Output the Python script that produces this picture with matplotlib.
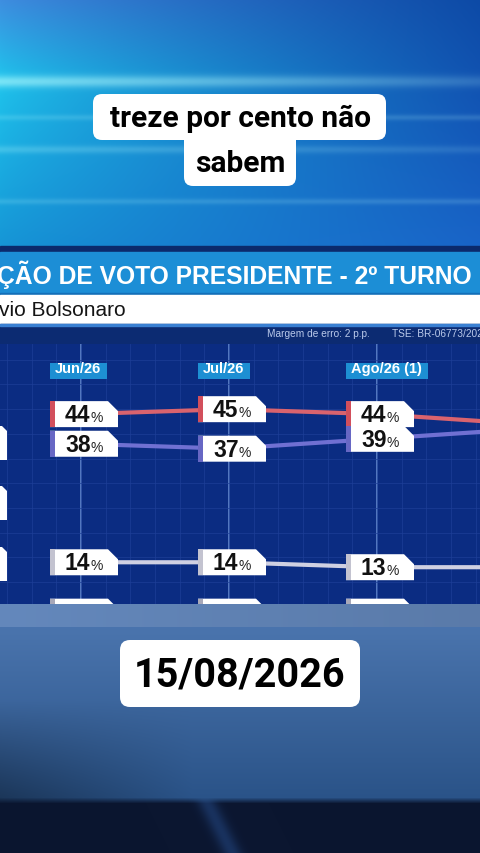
import numpy as np
import matplotlib
matplotlib.use('Agg')
import matplotlib.pyplot as plt
from matplotlib import font_manager
from matplotlib.patches import Rectangle, FancyBboxPatch, Polygon
from matplotlib.ticker import MultipleLocator

# ============================================================================
# Data (read off the TV graphic)
# ============================================================================
months = ['Jun/26', 'Jul/26', 'Ago/26 (1)', 'Ago/26 (2)']
lula = [44, 45, 44, 42]
flavio = [38, 37, 39, 41]
nao_sabe = [14, 14, 13, 13]
branco_nulo = [4, 4, 4, 4]

caption_lines = ['treze por cento não', 'sabem']
title_text = 'ÇÃO DE VOTO PRESIDENTE - 2º TURNO'
subtitle_text = 'vio Bolsonaro'
margin_text = 'Margem de erro: 2 p.p.'
tse_text = 'TSE: BR-06773/2026'
date_text = '15/08/2026'

SERIES = [
    (lula, '#d9636e', '#d24f5c'),
    (flavio, '#7070d2', '#6767c4'),
    (nao_sabe, '#cfd0e2', '#c3c3d0'),
    (branco_nulo, '#b8b8cc', '#a8a8b8'),
]

W, H = 480, 854
DPI = 100

installed = {f.name for f in font_manager.fontManager.ttflist}
TITLE_FONT = 'Liberation Sans Narrow' if 'Liberation Sans Narrow' in installed else 'Liberation Sans'


def hex2rgb(h):
    h = h.lstrip('#')
    return np.array([int(h[i:i + 2], 16) / 255 for i in (0, 2, 4)])


def top_background():
    """Bright blue studio backdrop with horizontal light streaks"""
    yy, xx = np.mgrid[0:247, 0:W].astype(float)
    t = xx / W
    left_top, left_mid, left_bot = hex2rgb('#3f8ee0'), hex2rgb('#1fc4ec'), hex2rgb('#1696d6')
    right_top, right_bot = hex2rgb('#0d4aa6'), hex2rgb('#1964c8')
    a = np.clip(yy / 80, 0, 1)[..., None]
    b = np.clip((yy - 80) / 167, 0, 1)[..., None]
    left = np.where(yy[..., None] < 80, left_top * (1 - a) + left_mid * a,
                    left_mid * (1 - b) + left_bot * b)
    right = right_top * (1 - yy[..., None] / 247) + right_bot * (yy[..., None] / 247)
    img = left * (1 - t[..., None] ** 0.8) + right * t[..., None] ** 0.8
    glow = (0.55 * np.exp(-((yy - 82) / 6) ** 2) * (1 - 0.7 * t)
            + 0.15 * np.exp(-((yy - 118) / 3) ** 2)
            + 0.22 * np.exp(-((yy - 150) / 4) ** 2) * (1 - 0.5 * t)
            + 0.15 * np.exp(-((yy - 202) / 3) ** 2))
    img = img + glow[..., None] * (np.array([0.75, 1.0, 1.0]) - img)
    return np.clip(img, 0, 1)


def bottom_background():
    """Grey-blue studio floor under the graphic"""
    yy, xx = np.mgrid[605:H, 0:W].astype(float)
    t = xx / W
    band = hex2rgb('#6488bc')
    upper, lower = hex2rgb('#4a74ad'), hex2rgb('#2a5388')
    dark = hex2rgb('#0b1630')
    s = np.clip((yy - 630) / 170, 0, 1)[..., None]
    img = upper * (1 - s) + lower * s
    # darker on the lower left
    shade = np.clip((yy - 700) / 100, 0, 1) * np.clip(1 - t * 2.5, 0, 1)
    img = img * (1 - 0.35 * shade[..., None])
    img = np.where(yy[..., None] < 628, band * (1 - 0.1 * t[..., None]), img)
    floor = np.clip((yy - 798) / 6, 0, 1)[..., None]
    stripe = np.exp(-((xx - (205 + (yy - 800) * 0.5)) / 10) ** 2)
    floor_col = dark + 0.18 * stripe[..., None] * np.array([0.3, 0.6, 1.0])
    img = img * (1 - floor) + floor_col * floor
    return np.clip(img, 0, 1)


# ============================================================================
# Figure
# ============================================================================
fig = plt.figure(figsize=(W / DPI, H / DPI), dpi=DPI)
renderer = fig.canvas.get_renderer()
bg = fig.add_axes([0, 0, 1, 1])
bg.set_xlim(0, W)
bg.set_ylim(H, 0)
bg.axis('off')

bg.imshow(top_background(), extent=(0, W, 247, 0), aspect='auto', zorder=0)
bg.imshow(bottom_background(), extent=(0, W, H, 605), aspect='auto', zorder=0)

# header bars of the graphic
bg.add_patch(Rectangle((0, 247), W, 6, color='#0b2a6c', zorder=1))
bg.add_patch(Rectangle((0, 253), W, 43, color='#1c8ed6', zorder=1))
bg.add_patch(Rectangle((0, 294), W, 2, color='#136fb8', zorder=1))
bg.add_patch(Rectangle((0, 296), W, 29, color='white', zorder=1))
bg.add_patch(Rectangle((0, 325), W, 20, color='#0c2b72', zorder=1))
bg.add_patch(Rectangle((0, 325), W, 1.5, color='#3a80d2', zorder=2))

title = bg.text(-3, 275, title_text, color='white', fontsize=20, fontweight='bold',
                family=TITLE_FONT, ha='left', va='center', zorder=3)
# shrink the title until it fits the bar (ends near x=472)
tw = title.get_window_extent(renderer).width
title.set_fontsize(20 * 474 / tw)

bg.text(-1, 311, subtitle_text, color='#141414', fontsize=15,
        family='Liberation Sans', ha='left', va='center', zorder=3)
bg.text(267, 334, margin_text, color='#b9c9ea', fontsize=7.3,
        family='Liberation Sans', ha='left', va='center', zorder=3)
bg.text(392, 334, tse_text, color='#b9c9ea', fontsize=7.3,
        family='Liberation Sans', ha='left', va='center', zorder=3)

# caption boxes
bg.add_patch(FancyBboxPatch((93, 95), 293, 46, boxstyle='round,pad=0,rounding_size=9',
                            fc='white', ec='none', zorder=4))
bg.add_patch(FancyBboxPatch((184, 130), 112, 57, boxstyle='round,pad=0,rounding_size=9',
                            fc='white', ec='none', zorder=4))
bg.text(240, 119, caption_lines[0], fontsize=21.5, fontweight='bold', family='Roboto',
        color='black', ha='center', va='center', zorder=5)
bg.text(240, 164, caption_lines[1], fontsize=21.5, fontweight='bold', family='Roboto',
        color='black', ha='center', va='center', zorder=5)

# date box
bg.add_patch(FancyBboxPatch((120, 641), 240, 67, boxstyle='round,pad=0,rounding_size=10',
                            fc='white', ec='none', zorder=4))
bg.text(240, 676, date_text, fontsize=28.5, fontweight='bold', family='Roboto',
        color='black', ha='center', va='center', zorder=5)

# ============================================================================
# Chart area
# ============================================================================
COL_PX = 148.0
FIRST_COL_PX = 81.0
ax = fig.add_axes([0, (H - 605) / H, 1, 260 / H])
ax.set_facecolor('#0b2c82')
ax.set_xlim(-FIRST_COL_PX / COL_PX, (W - FIRST_COL_PX) / COL_PX)
ax.set_ylim(5.55, 58.2)
for side in ax.spines.values():
    side.set_visible(False)
ax.xaxis.set_major_locator(MultipleLocator(1 / 6))
ax.yaxis.set_major_locator(MultipleLocator(5))
ax.tick_params(length=0, labelbottom=False, labelleft=False)
ax.grid(True, color='#1d3f98', linewidth=0.6, alpha=0.8)

x = np.arange(len(months))
for i in x:
    ax.axvline(i, color='#5b80c6', linewidth=1.3, zorder=1)

for vals, line_col, edge_col in SERIES:
    ax.plot(x, vals, color=line_col, linewidth=3, solid_capstyle='butt', zorder=2)

# value labels: white tag with coloured left edge and clipped corner
for vals, line_col, edge_col in SERIES:
    for i, v in zip(x, vals):
        cx, cy = ax.transData.transform((i, v))
        l, r, b, t = cx - 31, cx + 37, cy - 13, cy + 13
        ax.add_patch(Polygon([(l, b), (l, t), (r - 10, t), (r, t - 10), (r, b)],
                             closed=True, fc='white', ec='none', transform=None, zorder=3))
        ax.add_patch(Rectangle((l, b), 5, t - b, fc=edge_col, ec='none',
                               transform=None, zorder=4))
        ax.annotate(f'{v}', xy=(i, v), xytext=(-16, -7), textcoords='offset pixels',
                    fontsize=16.5, fontweight='bold', family='Liberation Sans',
                    color='#111111', ha='left', va='baseline', zorder=5)
        ax.annotate('%', xy=(i, v), xytext=(10, -7), textcoords='offset pixels',
                    fontsize=10, family='Liberation Sans',
                    color='#222222', ha='left', va='baseline', zorder=5)

# month headers
for i, m in zip(x, months):
    txt = ax.annotate(m, xy=(i, ax.get_ylim()[1]), xytext=(-26, -28),
                      textcoords='offset pixels', fontsize=10.5, fontweight='bold',
                      family='Liberation Sans', color='white', ha='left',
                      va='baseline', zorder=6)
    ext = txt.get_window_extent(renderer)
    hx, hy = ax.transData.transform((i, ax.get_ylim()[1]))
    ax.add_patch(Rectangle((hx - 31, hy - 35), ext.width + 11, 16, fc='#1d8fd3',
                           ec='none', transform=None, zorder=5))

# legend tags cut off at the left edge
for top in (427, 487, 548):
    ax.add_patch(Polygon([(0, top + 34), (0, top), (2, top), (7, top + 5), (7, top + 34)],
                         closed=True, fc='white', ec='none', transform=bg.transData,
                         zorder=3, clip_on=False))

fig.savefig('out.png', dpi=DPI)
plt.close(fig)
